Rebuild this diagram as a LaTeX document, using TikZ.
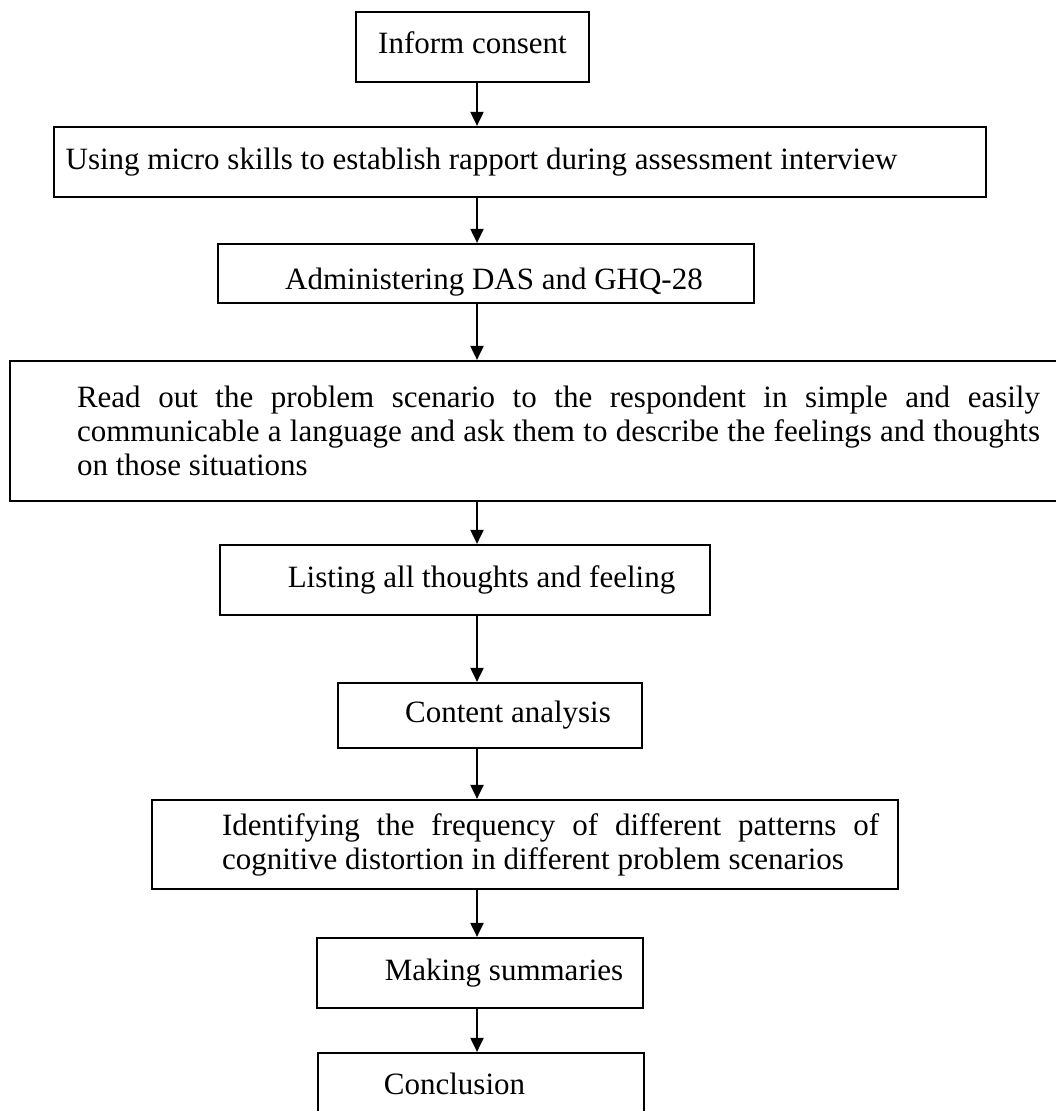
\documentclass[tikz,border=0pt]{standalone}
\usepackage{fontspec}
\setmainfont{Liberation Serif}
\usetikzlibrary{arrows.meta}
\newcommand{\stagefont}{\fontsize{15.5}{17}\selectfont}

\begin{document}
\begin{tikzpicture}[x=0.5pt,y=-0.5pt,
  stage/.style={draw,rectangle,line width=1.1pt,inner sep=3pt,font=\stagefont},
  push/.style={execute at begin node={\hspace*{#1}}},
  flow/.style={line width=1pt,-{Triangle[length=7pt,width=6.5pt]}}]
\useasboundingbox (0,0) rectangle (1055,1111);

\coordinate (spine) at (477,0);

\node[stage,minimum width=116.5pt,minimum height=35pt,text depth=4pt] (consent) at (472.5,47) {Inform consent};
\node[stage,minimum width=466pt,minimum height=35pt,push=-38.5pt] (rapport) at (520,162) {Using micro skills to establish rapport during assessment interview};
\node[stage,minimum width=268pt,minimum height=29.5pt,push=8pt,text height=16.5pt,text depth=0pt] (scales) at (486,273.5) {Administering DAS and GHQ-28};
\node[stage,minimum width=525pt,minimum height=70pt,push=23.5pt] (scenario) at (535,431) {\parbox{481.5pt}{Read out the problem scenario to the respondent in simple and easily\linebreak communicable a language and ask them to describe the feelings and thoughts\linebreak on those situations}};
\node[stage,minimum width=245pt,minimum height=35pt,push=16.5pt] (listing) at (465,580) {Listing all thoughts and feeling};
\node[stage,minimum width=152pt,minimum height=32.5pt,push=18pt] (content) at (490,715.5) {Content analysis};
\node[stage,minimum width=373pt,minimum height=44.5pt,push=25.5pt] (patterns) at (525,844.5) {\parbox{328.5pt}{Identifying the frequency of different patterns of\linebreak cognitive distortion in different problem scenarios}};
\node[stage,minimum width=163pt,minimum height=35pt,push=24pt] (summary) at (480,973) {Making summaries};
\node[stage,minimum width=163pt,minimum height=35pt,push=-26.5pt,text depth=4pt] (conclusion) at (481,1088) {Conclusion};

\draw[flow] (spine |- consent.south) -- (spine |- rapport.north);
\draw[flow] (spine |- rapport.south) -- (spine |- scales.north);
\draw[flow] (spine |- scales.south) -- (spine |- scenario.north);
\draw[flow] (spine |- scenario.south) -- (spine |- listing.north);
\draw[flow] (spine |- listing.south) -- (spine |- content.north);
\draw[flow] (spine |- content.south) -- (spine |- patterns.north);
\draw[flow] (spine |- patterns.south) -- (spine |- summary.north);
\draw[flow] (spine |- summary.south) -- (spine |- conclusion.north);

\end{tikzpicture}
\end{document}
